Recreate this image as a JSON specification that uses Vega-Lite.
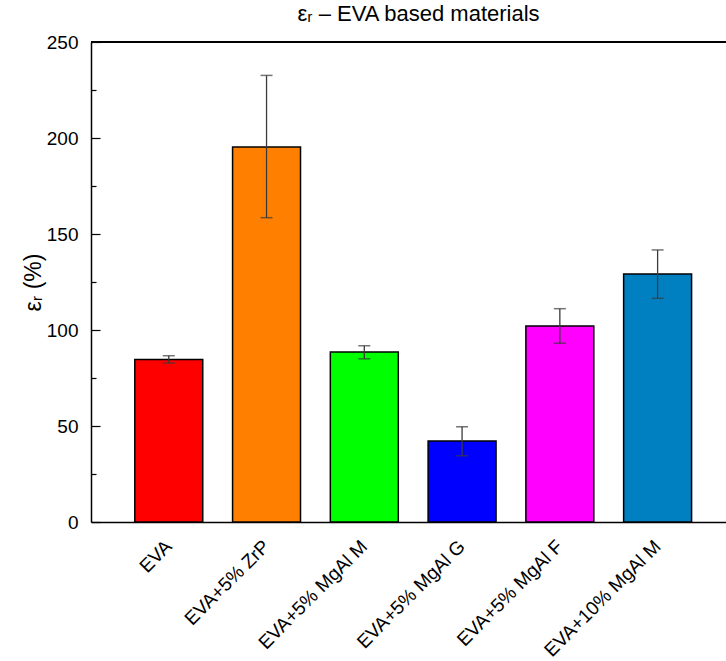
{
  "$schema": "https://vega.github.io/schema/vega-lite/v6.json",
  "width": 635,
  "height": 480,
  "autosize": "none",
  "padding": {"left": 91, "top": 42, "right": 0, "bottom": 139},
  "background": "white",
  "title": {"text": "εᵣ – EVA based materials", "font": "Liberation Sans", "fontSize": 22, "fontWeight": "normal", "anchor": "middle", "offset": 7, "dx": 10, "color": "black"},
  "config": {
    "view": {"stroke": null},
    "axis": {"grid": false, "domainColor": "black", "domainWidth": 1.5, "tickColor": "black", "tickWidth": 1.2, "labelFont": "Liberation Sans", "labelFontSize": 19, "labelColor": "black", "titleFont": "Liberation Sans", "titleFontSize": 23, "titleFontWeight": "normal", "titleColor": "black"}
  },
  "data": {"values": [
    {"material": "EVA", "mean": 84.7, "lo": 82.8, "hi": 86.6},
    {"material": "EVA+5% ZrP", "mean": 195.3, "lo": 158.5, "hi": 232.6},
    {"material": "EVA+5% MgAl M", "mean": 88.5, "lo": 85.0, "hi": 91.8},
    {"material": "EVA+5% MgAl G", "mean": 42.2, "lo": 34.5, "hi": 49.6},
    {"material": "EVA+5% MgAl F", "mean": 102.1, "lo": 93.1, "hi": 111.1},
    {"material": "EVA+10% MgAl M", "mean": 129.2, "lo": 116.5, "hi": 141.7}
  ]},
  "layer": [
    {
      "mark": {"type": "bar", "stroke": "black", "strokeWidth": 1.5},
      "encoding": {
        "x": {"field": "material", "type": "nominal", "sort": null,
          "scale": {"paddingInner": 0.305, "paddingOuter": 0.4, "align": 0.56},
          "axis": {"title": null, "labelAngle": -45, "labelAlign": "right", "labelBaseline": "middle", "labelPadding": 25, "tickSize": -4, "tickWidth": 1}},
        "y": {"field": "mean", "type": "quantitative", "title": "εᵣ (%)",
          "scale": {"domain": [0, 250], "nice": false},
          "axis": {"values": [0, 25, 50, 75, 100, 125, 150, 175, 200, 225, 250],
            "labelExpr": "datum.value % 50 === 0 ? datum.label : ''",
            "tickSize": {"condition": {"test": "datum.value % 50 === 0", "value": -9}, "value": -5},
            "labelPadding": 22, "titlePadding": 1}},
        "color": {"field": "material", "type": "nominal", "sort": null, "legend": null,
          "scale": {"range": ["#FF0000", "#FF8000", "#00FF00", "#0000FF", "#FF00FF", "#0080C0"]}}
      }
    },
    {
      "mark": {"type": "rule", "color": "#3a3a3a", "strokeWidth": 1.3},
      "encoding": {
        "x": {"field": "material", "type": "nominal", "sort": null},
        "y": {"field": "lo", "type": "quantitative", "title": "εᵣ (%)"},
        "y2": {"field": "hi"}
      }
    },
    {
      "mark": {"type": "tick", "color": "#3a3a3a", "thickness": 1.5, "size": 12},
      "encoding": {
        "x": {"field": "material", "type": "nominal", "sort": null},
        "y": {"field": "lo", "type": "quantitative", "title": "εᵣ (%)"}}
    },
    {
      "mark": {"type": "tick", "color": "#3a3a3a", "thickness": 1.5, "size": 12},
      "encoding": {
        "x": {"field": "material", "type": "nominal", "sort": null},
        "y": {"field": "hi", "type": "quantitative", "title": "εᵣ (%)"}}
    },
    {
      "mark": {"type": "rule", "color": "black", "strokeWidth": 1.5},
      "encoding": {"y": {"datum": 250, "type": "quantitative"}}
    }
  ]
}
